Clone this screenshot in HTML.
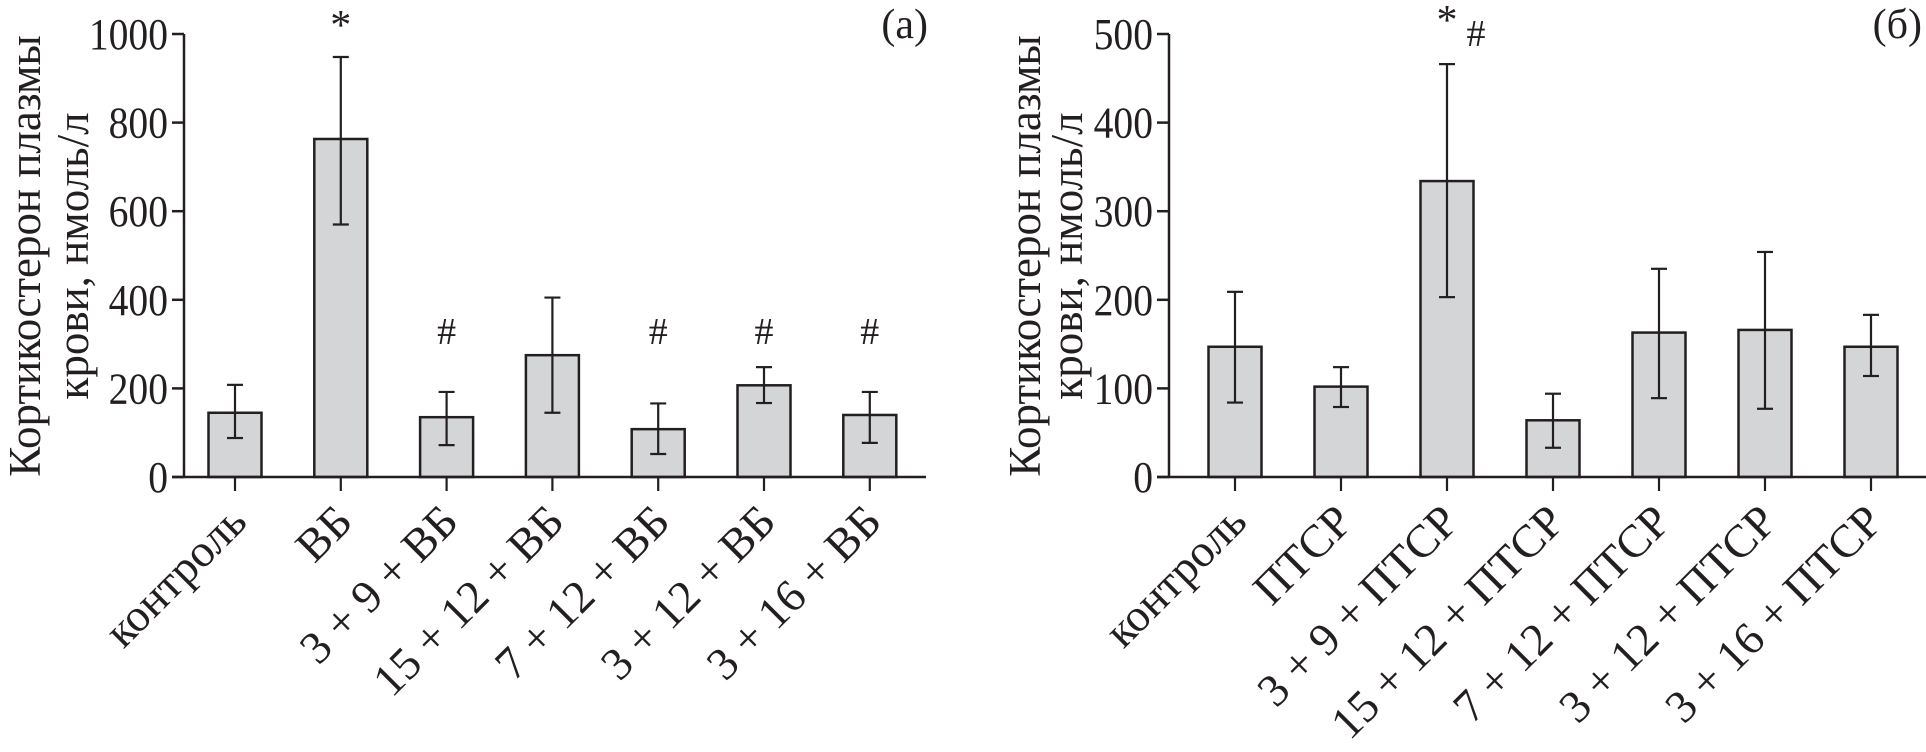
<!DOCTYPE html>
<html><head><meta charset="utf-8">
<style>
html,body{margin:0;padding:0;background:#fff;}
svg{display:block;font-family:"Liberation Serif","DejaVu Serif",serif;fill:#231f20;}
</style></head>
<body>
<svg id="chart" width="1926" height="752" viewBox="0 0 1926 752" xmlns="http://www.w3.org/2000/svg"></svg>
<script>
const catsA = ["контроль","ВБ","3 + 9 + ВБ","15 + 12 + ВБ","7 + 12 + ВБ","3 + 12 + ВБ","3 + 16 + ВБ"];
const meanA = [145,763,135,275,108,207,140];
const lowA = [88,570,72,145,52,167,77];
const highA = [208,948,192,405,166,248,192];
const markA = ["","*","#","","#","#","#"];
const ticksA = [0,200,400,600,800,1000];

const catsB = ["контроль","ПТСР","3 + 9 + ПТСР","15 + 12 + ПТСР","7 + 12 + ПТСР","3 + 12 + ПТСР","3 + 16 + ПТСР"];
const meanB = [147,102,334,64,163,166,147];
const lowB = [84,79,203,33,89,77,114];
const highB = [209,124,466,94,235,254,183];
const markB = ["","","*#","","","",""];
const ticksB = [0,100,200,300,400,500];

const NS="http://www.w3.org/2000/svg";
const svg=document.getElementById('chart');
function mk(tag,attrs,parent){const e=document.createElementNS(NS,tag);for(const k in attrs)e.setAttribute(k,attrs[k]);(parent||svg).appendChild(e);return e;}

function panel(p){
  const g=mk('g',{});
  
  
  const y0=477,y1=34;
  const ys=v=>y0-(v/p.max)*(y0-y1);
  const xs=i=>p.x0+i*p.step;
  p.cats.forEach((c,i)=>{
    const cx=xs(i),bw=53;
    const r=mk('rect',{x:cx-bw/2,y:ys(p.mean[i]),width:bw,height:y0-ys(p.mean[i]),fill:'#d4d5d7',stroke:'#231f20','stroke-width':2.5},g);
    
    
    const eb=mk('g',{stroke:'#231f20','stroke-width':2.2},g);
    
    
    mk('line',{x1:cx,x2:cx,y1:ys(p.low[i]),y2:ys(p.high[i])},eb);
    mk('line',{x1:cx-8,x2:cx+8,y1:ys(p.low[i]),y2:ys(p.low[i])},eb);
    mk('line',{x1:cx-8,x2:cx+8,y1:ys(p.high[i]),y2:ys(p.high[i])},eb);
    mk('line',{x1:cx,x2:cx,y1:y0,y2:491},eb);
    const lab=mk('text',{x:cx+14,y:524,'font-size':46,'text-anchor':'end',transform:`rotate(-45 ${cx+14} 524)`},g);
    lab.textContent=c;
    
    
    const m=p.mark[i];
    if(m){
      if(m==='*#'){
        const s=mk('text',{x:cx,y:ys(p.high[i])-30,'font-size':42,'text-anchor':'middle'},g);s.textContent='*';
        
        const h=mk('text',{x:cx+29,y:ys(p.high[i])-18,'font-size':38,'text-anchor':'middle'},g);h.textContent='#';
        
      } else if(m==='*'){
        const s=mk('text',{x:cx,y:ys(p.high[i])-18,'font-size':42,'text-anchor':'middle'},g);s.textContent='*';
        
      } else {
        const h=mk('text',{x:cx,y:ys(332)+14,'font-size':38,'text-anchor':'middle'},g);h.textContent='#';
        
      }
    }
  });
  const ax=mk('g',{stroke:'#231f20','stroke-width':2.5},g);
  
  mk('line',{x1:p.ax,x2:p.ax,y1:y1,y2:y0},ax);
  mk('line',{x1:p.ax-12,x2:p.xend,y1:y0,y2:y0},ax);
  p.ticks.forEach(t=>{
    mk('line',{x1:p.ax-12,x2:p.ax,y1:ys(t),y2:ys(t)},ax);
    const tl=mk('text',{x:0,y:0,'font-size':44,'text-anchor':'end',transform:`translate(${p.ax-16} ${ys(t)+15}) scale(0.9 1)`},g);
    tl.textContent=t;
    
  });
  const t1=mk('text',{x:p.b1,y:256,'font-size':45,'text-anchor':'middle',transform:`rotate(-90 ${p.b1} 256)`},g);
  t1.textContent='Кортикостерон плазмы';
  
  const t2=mk('text',{x:p.b2,y:256,'font-size':45,'text-anchor':'middle',transform:`rotate(-90 ${p.b2} 256)`},g);
  t2.textContent='крови, нмоль/л';
  
  const pl=mk('text',{x:p.lx,y:38,'font-size':42,'text-anchor':'end'},g);
  pl.textContent=p.label;
  
}
panel({name:'panel-a',cats:catsA,mean:meanA,low:lowA,high:highA,mark:markA,ticks:ticksA,max:1000,x0:235,step:105.8,ax:184,xend:926,b1:40,b2:88,lx:928,label:'(a)'});
panel({name:'panel-b',cats:catsB,mean:meanB,low:lowB,high:highB,mark:markB,ticks:ticksB,max:500,x0:1235,step:106,ax:1169,xend:1926,b1:1040,b2:1082,lx:1922,label:'(б)'});
</script>
</body></html>
